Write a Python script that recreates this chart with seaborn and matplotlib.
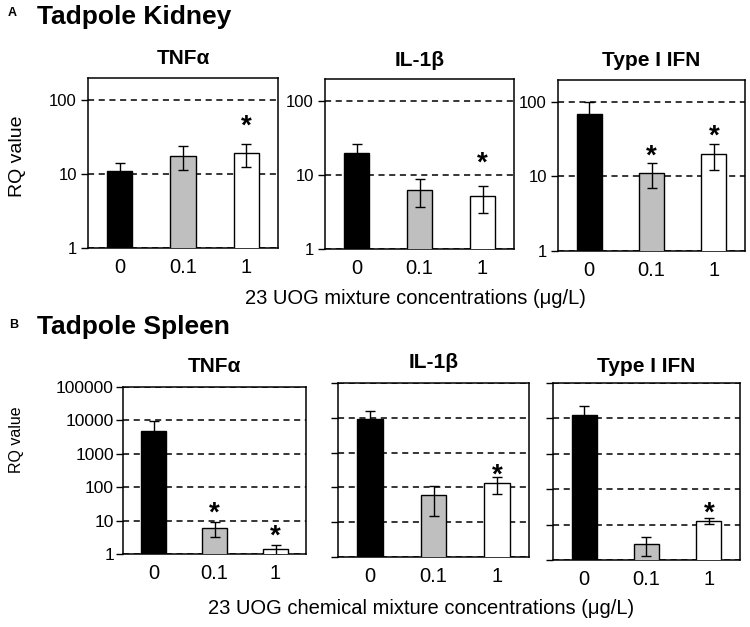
import pandas as pd
import seaborn as sns
import matplotlib
matplotlib.use("Agg")
import matplotlib.pyplot as plt
from matplotlib.ticker import FixedLocator, NullLocator, FixedFormatter, NullFormatter

# categories / colours
conc = ["0", "0.1", "1"]
bar_colors = ["black", "#bfbfbf", "white"]

# Tadpole kidney (panel A): RQ mean and SEM
kid_tnf = [11, 17.4, 18.9]
kid_tnf_sem = [3, 6.3, 6.4]
kid_tnf_sig = [False, False, True]

kid_il1b = [19.5, 6.3, 5.1]
kid_il1b_sem = [6.5, 2.6, 2.0]
kid_il1b_sig = [False, False, True]

kid_ifn = [69, 11, 19.8]
kid_ifn_sem = [30, 4.0, 7.7]
kid_ifn_sig = [False, True, True]

# Tadpole spleen (panel B)
spl_tnf = [4800, 6.2, 1.4]
spl_tnf_sem = [5000, 3.0, 0.45]
spl_tnf_sig = [False, True, True]

spl_il1b = [9500, 61, 130]
spl_il1b_sem = [6500, 46, 66]
spl_il1b_sig = [False, False, True]

spl_ifn = [12400, 2.9, 13]
spl_ifn_sem = [10600, 1.6, 2.6]
spl_ifn_sig = [False, False, True]

gene_titles = ["TNF\u03b1", "IL-1\u03b2", "Type I IFN"]

sns.set_theme(style="ticks")
plt.rcParams["font.family"] = ["Liberation Sans", "DejaVu Sans"]
plt.rcParams["axes.linewidth"] = 1.1
plt.rcParams["text.color"] = "black"
plt.rcParams["axes.labelcolor"] = "black"
plt.rcParams["xtick.color"] = "black"
plt.rcParams["ytick.color"] = "black"

W, H = 750, 627
fig = plt.figure(figsize=(7.5, 6.27), dpi=100)


def box(l, t, r, b):
    return [l / W, 1 - b / H, (r - l) / W, (b - t) / H]


def ftext(x, y, s, **kw):
    fig.text(x / W, 1 - y / H, s, color="black", **kw)


panels = [
    # values, sem, sig, axes box, part, gene index, star gap (pt), title y
    (kid_tnf, kid_tnf_sem, kid_tnf_sig, (88, 78, 278, 248), "A", 0, 7, 59),
    (kid_il1b, kid_il1b_sem, kid_il1b_sig, (325, 79, 514, 249), "A", 1, 11, 60),
    (kid_ifn, kid_ifn_sem, kid_ifn_sig, (558, 80, 745, 251), "A", 2, 0, 60),
    (spl_tnf, spl_tnf_sem, spl_tnf_sig, (123, 387, 306, 554), "B", 0, 1, 367),
    (spl_il1b, spl_il1b_sem, spl_il1b_sig, (338, 383, 529, 557), "B", 1, -4, 363),
    (spl_ifn, spl_ifn_sem, spl_ifn_sig, (553, 383, 740, 560), "B", 2, -2, 366),
]

for vals, sem, sig, bx, part, gi, gap, ty in panels:
    ax = fig.add_axes(box(*bx))
    df = pd.DataFrame({"conc": conc, "rq": vals})
    ax.set_yscale("log")
    sns.barplot(data=df, x="conc", y="rq", hue="conc", palette=bar_colors,
                edgecolor="black", linewidth=1.0, width=0.4, errorbar=None,
                legend=False, ax=ax, zorder=3)
    ax.errorbar(range(3), vals, yerr=sem, fmt="none", ecolor="black",
                elinewidth=1.0, capsize=3.5, capthick=1.0, zorder=4)
    for i in range(3):
        if sig[i]:
            ax.annotate("*", xy=(i, vals[i] + sem[i]), xytext=(0, gap),
                        textcoords="offset points", ha="center", va="baseline",
                        fontsize=20, fontweight="bold", color="black")

    if part == "A":
        ax.set_ylim(1, 195)
        grid = [1, 10, 100]
        labels = ["1", "10", "100"]
        ylab_size = 12
        pad = 3
    else:
        ax.set_ylim(1, 100000)
        grid = [1, 10, 100, 1000, 10000, 100000]
        labels = ["1", "10", "100", "1000", "10000", "100000"]
        ylab_size = 12.5
        pad = 1.5
    ax.set_xlim(-0.5, 2.5)
    ax.yaxis.set_major_locator(FixedLocator(grid))
    ax.yaxis.set_minor_locator(NullLocator())
    if part == "A" or gi == 0:
        ax.yaxis.set_major_formatter(FixedFormatter(labels))
    else:
        ax.yaxis.set_major_formatter(NullFormatter())
    ax.yaxis.grid(True, color="black", linestyle=(0, (4, 3)), linewidth=1.1)
    ax.set_axisbelow(True)
    ax.tick_params(axis="y", length=5, width=1, color="black", pad=pad,
                   labelsize=ylab_size, labelcolor="black")
    ax.tick_params(axis="x", length=0, pad=7, labelsize=14.5, labelcolor="black")
    for sp in ax.spines.values():
        sp.set_visible(True)
        sp.set_color("black")
        sp.set_linewidth(1.1)
    ax.set_xlabel("")
    ax.set_ylabel("")
    ftext((bx[0] + bx[2]) / 2, ty, gene_titles[gi], ha="center", va="center",
          fontsize=15, fontweight="bold")

# panel headings
ftext(8, 13, "A", ha="left", va="center", fontsize=9, fontweight="bold")
ftext(37, 17, "Tadpole Kidney", ha="left", va="center", fontsize=19, fontweight="bold")
ftext(9, 325, "B", ha="left", va="center", fontsize=9, fontweight="bold")
ftext(37, 327, "Tadpole Spleen", ha="left", va="center", fontsize=19, fontweight="bold")

# axis labels
ftext(18, 156, "RQ value", rotation=90, ha="center", va="center", fontsize=14)
ftext(17, 440, "RQ value", rotation=90, ha="center", va="center", fontsize=11.5)
ftext(415, 298, "23 UOG mixture concentrations (\u03bcg/L)", ha="center", va="center",
      fontsize=14.5)
ftext(421, 609, "23 UOG chemical mixture concentrations (\u03bcg/L)", ha="center",
      va="center", fontsize=14.5)

fig.savefig("out.png", dpi=100)
